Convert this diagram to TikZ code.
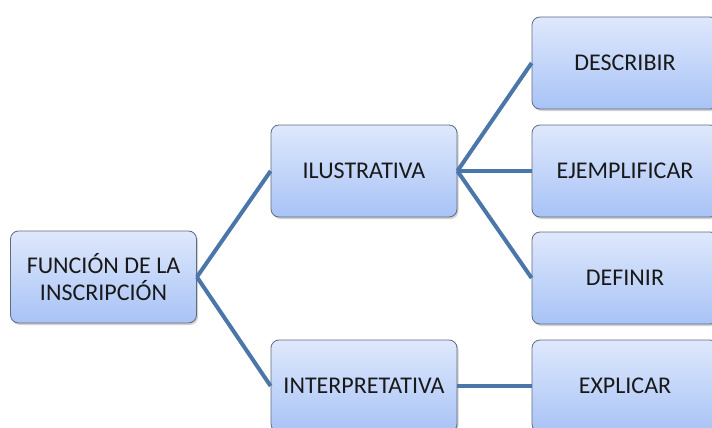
\documentclass[tikz,border=0pt]{standalone}
\usepackage{fontspec}
\setmainfont{Carlito}
\usetikzlibrary{shadows}
\definecolor{boxtop}{HTML}{DFE8FC}
\definecolor{boxbot}{HTML}{A8C3F6}
\definecolor{boxline}{HTML}{5E6C80}
\definecolor{linkblue}{HTML}{4A76AA}
\tikzset{
  box/.style={draw=boxline, line width=0.8pt, rounded corners=8pt,
    top color=boxtop, bottom color=boxbot,
    minimum width=186pt, minimum height=92pt, align=center,
    font=\fontsize{24}{27}\selectfont, text=black!90,
    drop shadow={opacity=0.35, shadow xshift=1.5pt, shadow yshift=-2pt}},
  link/.style={draw=linkblue, line width=4pt}
}
\begin{document}
\begin{tikzpicture}[x=1pt,y=-1pt]
  \useasboundingbox (0,0) rectangle (712,428);
  \clip (0,0) rectangle (712,428);
  \fill[white] (0,0) rectangle (712,428);
  % tree nodes
  \node[box] (root) at (103.5,277) {FUNCIÓN DE LA\\INSCRIPCIÓN};
  \node[box] (ilus) at (364,171) {ILUSTRATIVA};
  \node[box] (inter) at (364,386) {INTERPRETATIVA};
  \node[box] (desc) at (625,63) {DESCRIBIR};
  \node[box] (ejem) at (625,171) {EJEMPLIFICAR};
  \node[box] (defi) at (625,278) {DEFINIR};
  \node[box] (expl) at (625,386) {EXPLICAR};
  % connectors
  \draw[link] (root.east) -- (ilus.west);
  \draw[link] (root.east) -- (inter.west);
  \draw[link] (ilus.east) -- (desc.west);
  \draw[link] (ilus.east) -- (ejem.west);
  \draw[link] (ilus.east) -- (defi.west);
  \draw[link] (inter.east) -- (expl.west);
\end{tikzpicture}
\end{document}
